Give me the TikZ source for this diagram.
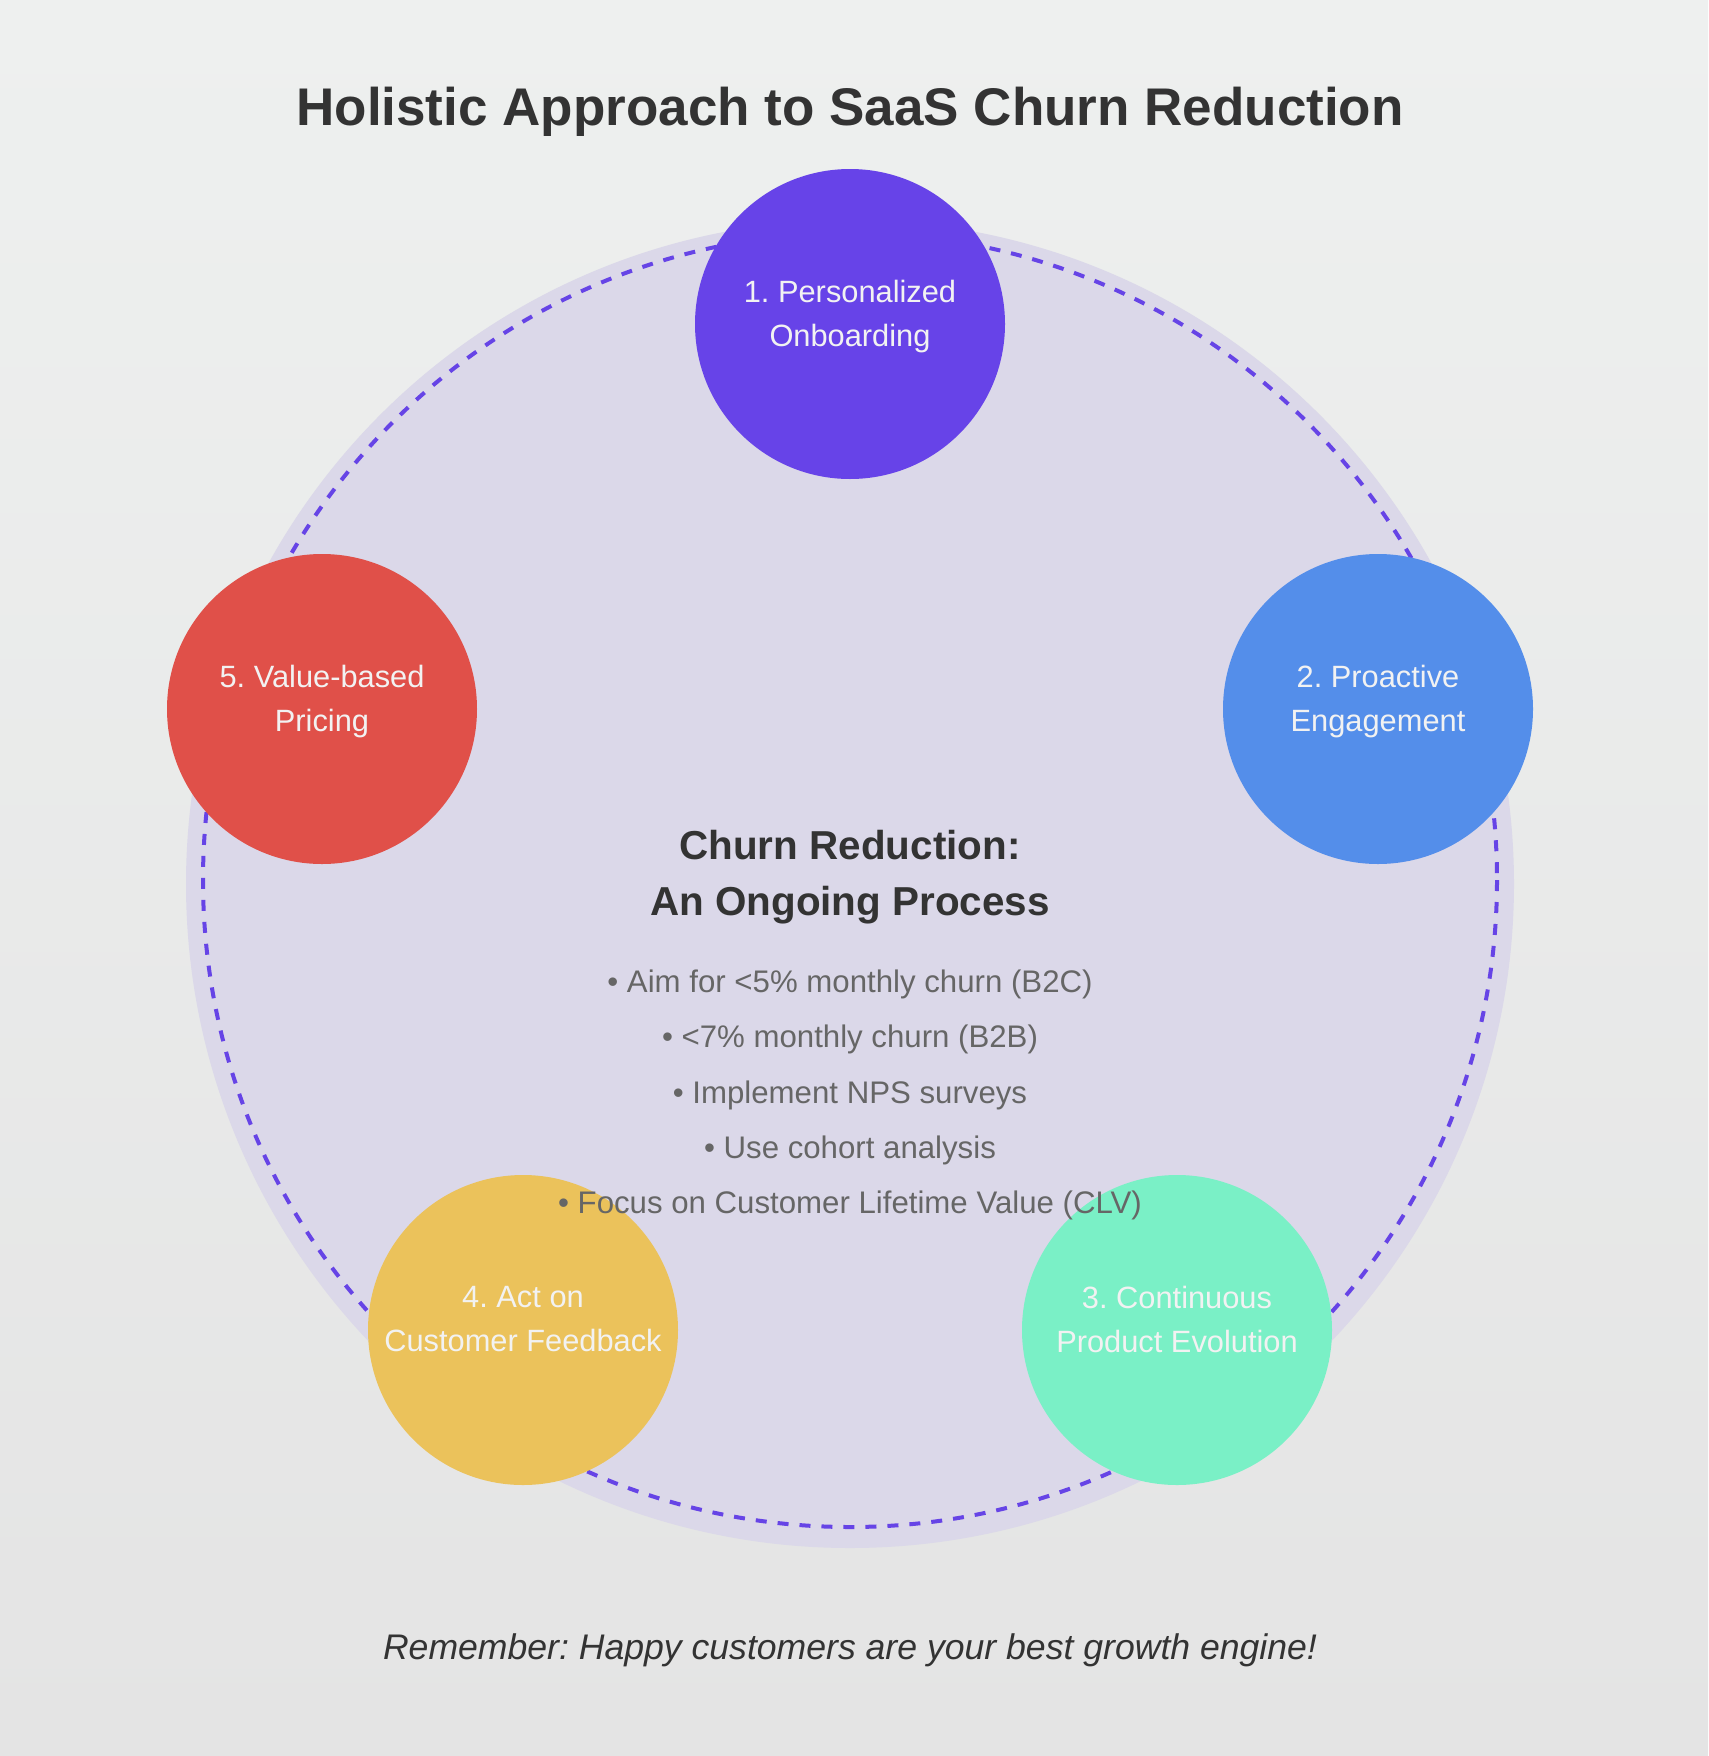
\documentclass[tikz,border=0pt]{standalone}
\usepackage{fontspec}
\setmainfont{Liberation Sans}
\frenchspacing
\definecolor{bgtop}{HTML}{EEF0EF}
\definecolor{bgbot}{HTML}{E4E4E4}
\definecolor{ringfill}{HTML}{DBD8E9}
\definecolor{ringdash}{HTML}{6644E6}
\definecolor{stepone}{HTML}{6743E8}
\definecolor{steptwo}{HTML}{548EEA}
\definecolor{stepthree}{HTML}{7AF0C6}
\definecolor{stepfour}{HTML}{EBC25B}
\definecolor{stepfive}{HTML}{E05049}
\definecolor{darktext}{HTML}{333333}
\definecolor{greytext}{HTML}{666666}
\tikzset{
  stepcirc/.style={circle, minimum size=155pt, inner sep=0pt},
  steplabel/.style={anchor=north, align=center, inner sep=0pt, text=white!95!black,
    font=\fontsize{15.4}{22}\selectfont},
  bulletline/.style={anchor=base, inner sep=0pt, text=greytext,
    font=\fontsize{15.6}{18}\selectfont},
}
\begin{document}
\begin{tikzpicture}[x=0.5pt,y=-0.5pt]
    \useasboundingbox (0,0) rectangle (1708,1756);
    \shade[top color=bgtop, bottom color=bgbot] (0,0) rectangle (1708,1756);
    \node[anchor=base, inner sep=0pt, text=darktext, font=\bfseries\fontsize{26.5}{30}\selectfont] (title) at (850,125) {Holistic Approach to SaaS Churn Reduction};
    % the cycle
    \fill[ringfill] (850,884) circle [radius=664];
    \draw[ringdash, line width=2pt, dash pattern=on 5.5pt off 5.5pt] (850,880) circle [radius=647];
    \node[stepcirc, fill=stepone] (s1) at (850,324) {};
    \node[stepcirc, fill=steptwo] (s2) at (1378,709) {};
    \node[stepcirc, fill=stepthree] (s3) at (1177,1330) {};
    \node[stepcirc, fill=stepfour] (s4) at (523,1330) {};
    \node[stepcirc, fill=stepfive] (s5) at (322,709) {};
    \node[steplabel] (t1) at ([yshift=22pt]s1.center) {1. Personalized\\Onboarding};
    \node[steplabel] (t2) at ([yshift=22pt]s2.center) {2. Proactive\\Engagement};
    \node[steplabel] (t3) at ([yshift=22pt]s3.center) {3. Continuous\\Product Evolution};
    \node[steplabel] (t4) at ([yshift=22pt]s4.center) {4. Act on\\Customer Feedback};
    \node[steplabel] (t5) at ([yshift=22pt]s5.center) {5. Value-based\\Pricing};
    % middle text
    \node[anchor=north, align=center, inner sep=0pt, text=darktext, font=\bfseries\fontsize{20.2}{28}\selectfont] (head) at (850,830) {Churn Reduction:\\An Ongoing Process};
    \node[bulletline] (b1) at (850,992) {• Aim for <5\% monthly churn (B2C)};
    \node[bulletline] (b2) at (850,1047) {• <7\% monthly churn (B2B)};
    \node[bulletline] (b3) at (850,1103) {• Implement NPS surveys};
    \node[bulletline] (b4) at (850,1158) {• Use cohort analysis};
    \node[bulletline] (b5) at (850,1213) {• Focus on Customer Lifetime Value (CLV)};
    \node[anchor=base, inner sep=0pt, text=darktext, font=\itshape\fontsize{17.8}{21}\selectfont] (note) at (850,1659) {Remember: Happy customers are your best growth engine!};
\end{tikzpicture}
\end{document}
